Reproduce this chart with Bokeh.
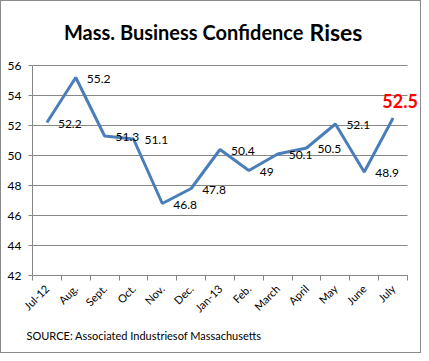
from bokeh.plotting import figure
from bokeh.models import ColumnDataSource, LabelSet, Label, FixedTicker, Range1d, Title
from bokeh.embed import file_html
from bokeh.resources import INLINE
from bokeh.core.properties import value
import math

months = ["Jul-12", "Aug.", "Sept.", "Oct.", "Nov.", "Dec.", "Jan-13", "Feb.",
          "March", "April", "May", "June", "July"]
confidence = [52.2, 55.2, 51.3, 51.1, 46.8, 47.8, 50.4, 49.0, 50.1, 50.5, 52.1, 48.9, 52.5]
y_ticks = [42, 44, 46, 48, 50, 52, 54, 56]
title_main = "Mass. Business Confidence"
title_end = "Rises"
source_text = "SOURCE: Associated Industriesof Massachusetts"

FONT = "Lato"
GREY = "#868686"

idx = list(range(len(months)))
labels = [("%g" % v) for v in confidence]
x_lo, x_hi = -0.5, len(months) - 0.5
y_lo, y_hi = y_ticks[0], y_ticks[-1]

# frame extended above (title room) and to the right (room for the highlighted label);
# axis lines and grid lines are bounded to the data extent
p = figure(width=421, height=353, output_backend="svg", toolbar_location=None,
           x_range=Range1d(x_lo, x_hi + 0.45), y_range=Range1d(y_lo, y_hi + 4),
           min_border_left=31, min_border_right=2, min_border_top=4, min_border_bottom=79)
p.styles = {"border": "1px solid #8a8a8a", "box-sizing": "border-box"}
p.outline_line_color = None
p.background_fill_color = "white"
p.border_fill_color = "white"

# axes
p.xaxis.bounds = (x_lo, x_hi)
p.xaxis.ticker = FixedTicker(ticks=idx, minor_ticks=[i - 0.5 for i in range(len(months) + 1)])
p.xaxis.major_label_overrides = {i: m for i, m in enumerate(months)}
p.xaxis.major_label_orientation = math.pi / 4
p.xaxis.major_tick_out = 0
p.xaxis.major_tick_in = 0
p.xaxis.minor_tick_out = 5
p.xaxis.minor_tick_in = 0
p.xaxis.minor_tick_line_color = GREY
p.xaxis.axis_line_color = GREY
p.xaxis.major_label_text_font = FONT
p.xaxis.major_label_text_font_size = "11px"
p.xaxis.major_label_text_color = "black"
p.xaxis.major_label_standoff = 6

p.yaxis.bounds = (y_lo, y_hi)
p.yaxis.ticker = FixedTicker(ticks=y_ticks)
p.yaxis.major_tick_out = 4
p.yaxis.major_tick_in = 0
p.yaxis.minor_tick_out = 0
p.yaxis.minor_tick_in = 0
p.yaxis.major_tick_line_color = GREY
p.yaxis.axis_line_color = GREY
p.yaxis.major_label_text_font = FONT
p.yaxis.major_label_text_font_size = "12px"
p.yaxis.major_label_text_color = "black"
p.yaxis.major_label_standoff = 7

# horizontal grid lines limited to the category extent
p.xgrid.grid_line_color = None
p.ygrid.grid_line_color = None
p.segment(x0=[x_lo] * len(y_ticks), x1=[x_hi] * len(y_ticks), y0=y_ticks, y1=y_ticks,
          line_color=GREY, line_width=1)

src = ColumnDataSource(dict(x=idx[:-1], y=confidence[:-1], lab=labels[:-1]))
p.line(idx, confidence, line_color="#4a7ebb", line_width=3)

p.add_layout(LabelSet(x="x", y="y", text="lab", source=src, x_offset=11, y_offset=-1,
                      text_align="left", text_baseline="middle",
                      text_font=value(FONT), text_font_size="12px", text_color="black"))
p.add_layout(Label(x=idx[-1], y=confidence[-1], text=labels[-1], x_offset=7, y_offset=10,
                   text_align="center", text_baseline="bottom",
                   text_font=FONT, text_font_size="18px", text_font_style="bold",
                   text_color="#ff0000"))

# title (frame-relative screen units)
p.add_layout(Label(x=271, y=244, x_units="screen", y_units="screen", text=title_main,
                   text_align="right", text_baseline="alphabetic",
                   text_font=FONT, text_font_size="20px", text_font_style="bold",
                   text_color="black"))
p.add_layout(Label(x=277, y=244, x_units="screen", y_units="screen", text=title_end,
                   text_align="left", text_baseline="alphabetic",
                   text_font=FONT, text_font_size="23px", text_font_style="bold",
                   text_color="black"))

p.add_layout(Title(text=source_text, align="left", offset=-6, standoff=10,
                   text_font=FONT, text_font_size="11px", text_font_style="normal",
                   text_color="black"), "below")

open("out.html", "w").write(file_html(p, INLINE))
